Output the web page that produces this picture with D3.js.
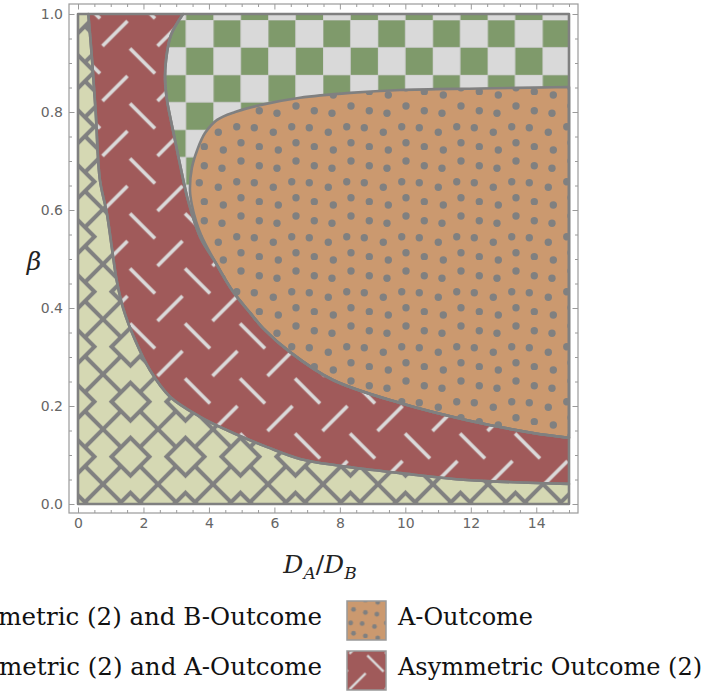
<!DOCTYPE html>
<html><head><meta charset="utf-8">
<script src="https://cdn.jsdelivr.net/npm/d3@7"></script>
<style>html,body{margin:0;padding:0;background:#fff;overflow:hidden}</style>
</head><body>
<svg id="chart" width="704" height="695" xmlns="http://www.w3.org/2000/svg"></svg>
<script>
// ---------------- data ----------------
const xTicks = [0, 2, 4, 6, 8, 10, 12, 14];
const yTicks = [0.0, 0.2, 0.4, 0.6, 0.8, 1.0];
const xDomain = [0, 15];
const yDomain = [0, 1];
// boundary between the lower-left region and the Asymmetric Outcome (2) band  [D_A/D_B, beta]
const lowerBoundary = [
  [0.315, 1.0], [0.43, 0.906], [0.54, 0.80], [0.67, 0.661], [0.88, 0.594],
  [1.03, 0.525], [1.18, 0.457], [1.38, 0.399], [1.74, 0.335], [2.20, 0.273],
  [2.81, 0.219], [3.73, 0.178], [4.74, 0.145], [5.78, 0.116], [6.78, 0.092],
  [8.00, 0.078], [9.84, 0.063], [11.88, 0.049], [15.0, 0.041]
];
// upper/right boundary of the Asymmetric Outcome (2) band
const upperBoundary = [
  [3.21, 1.0], [2.84, 0.957], [2.69, 0.906], [2.66, 0.865], [2.72, 0.824],
  [2.90, 0.763], [3.12, 0.692], [3.36, 0.620], [3.73, 0.545], [4.19, 0.494],
  [4.74, 0.433], [5.26, 0.390], [5.65, 0.359], [6.48, 0.310], [7.79, 0.253],
  [9.84, 0.206], [11.89, 0.171], [13.90, 0.145], [15.0, 0.135]
];
// top / left boundary of the A-Outcome region
const aOutcomeTop = [
  [15.0, 0.851], [12.28, 0.848], [9.84, 0.845], [8.31, 0.839], [6.78, 0.829],
  [5.56, 0.814], [4.80, 0.800], [4.25, 0.784], [3.88, 0.757], [3.64, 0.722],
  [3.48, 0.686], [3.42, 0.641], [3.48, 0.610], [3.61, 0.576], [3.76, 0.549]
];
const legendLeft = ["Asymmetric (2) and B-Outcome", "Asymmetric (2) and A-Outcome"];
const legendRight = ["A-Outcome", "Asymmetric Outcome (2)"];

// ---------------- setup ----------------
const svg = d3.select("#chart");
const x = d3.scaleLinear().domain(xDomain).range([78, 569]);
const y = d3.scaleLinear().domain(yDomain).range([504, 14]);
const GRAY = "#808080";

const defs = svg.append("defs");
// lattice pattern (lower-left region)
const pY = defs.append("pattern").attr("id", "pYellow").attr("patternUnits", "userSpaceOnUse")
  .attr("x", 103).attr("y", 429.2).attr("width", 55).attr("height", 55);
pY.append("rect").attr("width", 55).attr("height", 55).attr("fill", "#d5d8b3");
pY.append("path").attr("d", "M8.5,27.5L27.5,8.5L46.5,27.5L27.5,46.5Z M0,0L18,18 M55,0L37,18 M0,55L18,37 M55,55L37,37")
  .attr("fill", "none").attr("stroke", GRAY).attr("stroke-width", 4);
// dashes pattern (asymmetric band)
function redPattern(id, px, py) {
  const p = defs.append("pattern").attr("id", id).attr("patternUnits", "userSpaceOnUse")
    .attr("x", px).attr("y", py).attr("width", 55).attr("height", 55);
  p.append("rect").attr("width", 55).attr("height", 55).attr("fill", "#a05a5a");
  p.append("path").attr("d", "M1.25,1.25L26.25,26.25 M28.75,53.75L53.75,28.75")
    .attr("stroke", "#dadada").attr("stroke-width", 3.6).attr("fill", "none");
}
redPattern("pRed", 183.75, 377.25);
redPattern("pRedS", 30, 5.5);
// dots pattern (A-Outcome)
const dots = [[6, 11], [24.3, 15.7], [42, 18.3], [1.7, 31.7], [19.3, 32.7], [38.3, 37.3],
  [6, 47.7], [24.3, 51.7], [43.3, 55], [43.3, 0], [1.7 + 55, 31.7]];
function orangePattern(id, px, py) {
  const p = defs.append("pattern").attr("id", id).attr("patternUnits", "userSpaceOnUse")
    .attr("x", px).attr("y", py).attr("width", 55).attr("height", 55);
  p.append("rect").attr("width", 55).attr("height", 55).attr("fill", "#cb996f");
  p.selectAll("circle").data(dots).join("circle")
    .attr("cx", d => d[0]).attr("cy", d => d[1]).attr("r", 3.7).attr("fill", GRAY);
}
orangePattern("pOrange", 400, 150);
orangePattern("pOrangeS", 4, 2);
// checkerboard
const cs = 27.43;
const pC = defs.append("pattern").attr("id", "pCheck").attr("patternUnits", "userSpaceOnUse")
  .attr("x", 213.3).attr("y", 20).attr("width", 2 * cs).attr("height", 2 * cs);
pC.append("rect").attr("width", 2 * cs).attr("height", 2 * cs).attr("fill", "#d9d9d9");
pC.append("rect").attr("width", cs).attr("height", cs).attr("fill", "#7f9a6b");
pC.append("rect").attr("x", cs).attr("y", cs).attr("width", cs).attr("height", cs).attr("fill", "#7f9a6b");
pC.append("path").attr("d", `M0,0H${2*cs} M0,${cs}H${2*cs} M0,0V${2*cs} M${cs},0V${2*cs}`)
  .attr("stroke", "#c8c8c8").attr("stroke-width", 0.8).attr("fill", "none");

// ---------------- regions ----------------
const lineGen = d3.line().x(d => x(d[0])).y(d => y(d[1])).curve(d3.curveCatmullRom.alpha(0.5));
const toL = p => "L" + p.slice(1);
const Lpath = lineGen(lowerBoundary);
const Upath = lineGen(upperBoundary);
const UrevPath = lineGen(upperBoundary.slice().reverse());
const uEnd = upperBoundary[upperBoundary.length - 1];

const yellowD = `M${x(0)},${y(1)}` + toL(Lpath) + `L${x(15)},${y(0)}L${x(0)},${y(0)}Z`;
const redD = Lpath + `L${x(uEnd[0])},${y(uEnd[1])}` + toL(UrevPath) + "Z";
const greenD = Upath + `L${x(15)},${y(1)}Z`;
const orangeOutline = aOutcomeTop.concat(upperBoundary.filter(d => d[1] < 0.53));
const orangeD = lineGen(orangeOutline) + "Z";

const regions = [
  { d: yellowD, fill: "url(#pYellow)" },
  { d: greenD, fill: "url(#pCheck)" },
  { d: redD, fill: "url(#pRed)" },
  { d: orangeD, fill: "url(#pOrange)" }
];
const gR = svg.append("g");
gR.selectAll("path.fill").data(regions).join("path").attr("class", "fill")
  .attr("d", d => d.d).attr("fill", d => d.fill).attr("stroke", "none");
gR.selectAll("path.edge").data(regions).join("path").attr("class", "edge")
  .attr("d", d => d.d).attr("fill", "none").attr("stroke", GRAY).attr("stroke-width", 2.6)
  .attr("stroke-linejoin", "round");

// ---------------- frame & ticks ----------------
const FL = 69, FR = 578, FT = 4, FB = 513;
svg.append("rect").attr("x", FL).attr("y", FT).attr("width", FR - FL).attr("height", FB - FT)
  .attr("fill", "none").attr("stroke", "#9a9a9a").attr("stroke-width", 1.2);
const xMinor = d3.range(0, 15.001, 0.5).filter(v => !xTicks.includes(v));
const yMinor = d3.range(0, 1.0001, 0.05).map(v => +v.toFixed(2)).filter(v => !yTicks.some(t => Math.abs(t - v) < 1e-6));
function styleAxis(g) {
  g.select(".domain").remove();
  g.selectAll(".tick line").attr("stroke", "#9a9a9a").attr("stroke-width", 1);
  g.selectAll(".tick text").attr("fill", "#666").attr("font-family", "DejaVu Sans").attr("font-size", 14);
}
svg.append("g").attr("transform", `translate(${FL},0)`)
  .call(d3.axisLeft(y).tickValues(yTicks).tickFormat(d3.format(".1f")).tickSizeInner(-5.5).tickSizeOuter(0).tickPadding(6)).call(styleAxis);
svg.append("g").attr("transform", `translate(${FL},0)`)
  .call(d3.axisLeft(y).tickValues(yMinor).tickFormat("").tickSizeInner(-3).tickSizeOuter(0)).call(styleAxis);
svg.append("g").attr("transform", `translate(${FR},0)`)
  .call(d3.axisRight(y).tickValues(yTicks).tickFormat("").tickSizeInner(-5.5).tickSizeOuter(0)).call(styleAxis);
svg.append("g").attr("transform", `translate(${FR},0)`)
  .call(d3.axisRight(y).tickValues(yMinor).tickFormat("").tickSizeInner(-3).tickSizeOuter(0)).call(styleAxis);
svg.append("g").attr("transform", `translate(0,${FB})`)
  .call(d3.axisBottom(x).tickValues(xTicks).tickFormat(d3.format("d")).tickSizeInner(-5.5).tickSizeOuter(0).tickPadding(5)).call(styleAxis);
svg.append("g").attr("transform", `translate(0,${FB})`)
  .call(d3.axisBottom(x).tickValues(xMinor).tickFormat("").tickSizeInner(-3).tickSizeOuter(0)).call(styleAxis);
svg.append("g").attr("transform", `translate(0,${FT})`)
  .call(d3.axisTop(x).tickValues(xTicks).tickFormat("").tickSizeInner(-5.5).tickSizeOuter(0)).call(styleAxis);
svg.append("g").attr("transform", `translate(0,${FT})`)
  .call(d3.axisTop(x).tickValues(xMinor).tickFormat("").tickSizeInner(-3).tickSizeOuter(0)).call(styleAxis);

// ---------------- axis titles ----------------
const xt = svg.append("text").attr("x", 320).attr("y", 573).attr("text-anchor", "middle")
  .attr("font-family", "DejaVu Serif").attr("font-size", 25).attr("fill", "#222");
xt.append("tspan").attr("font-style", "italic").text("D");
xt.append("tspan").attr("font-style", "italic").attr("font-size", 17).attr("dy", 6).text("A");
xt.append("tspan").attr("dy", -6).text("/");
xt.append("tspan").attr("font-style", "italic").text("D");
xt.append("tspan").attr("font-style", "italic").attr("font-size", 17).attr("dy", 6).text("B");
svg.append("text").attr("x", 34).attr("y", 270).attr("text-anchor", "middle")
  .attr("font-family", "DejaVu Serif").attr("font-style", "italic").attr("font-size", 25).attr("fill", "#222").text("β");

// ---------------- legend ----------------
const lg = svg.append("g").attr("font-family", "DejaVu Serif").attr("fill", "#111");
const rowsY = [625, 675];
lg.selectAll("text.left").data(legendLeft).join("text").attr("class", "left")
  .attr("x", 322).attr("y", (d, i) => rowsY[i]).attr("font-size", 24.5).attr("text-anchor", "end").text(d => d);
lg.selectAll("text.right").data(legendRight).join("text").attr("class", "right")
  .attr("x", 398).attr("y", (d, i) => rowsY[i]).attr("font-size", 24).text(d => d);
const swFills = ["url(#pOrangeS)", "url(#pRedS)"];
const swTop = [601, 651];
swFills.forEach((f, i) => {
  const g = svg.append("g").attr("transform", `translate(347,${swTop[i]}) scale(0.65)`);
  g.append("rect").attr("width", 39 / 0.65).attr("height", 39 / 0.65).attr("fill", f)
    .attr("stroke", "#999").attr("stroke-width", 1.5 / 0.65);
});
</script>
</body></html>
